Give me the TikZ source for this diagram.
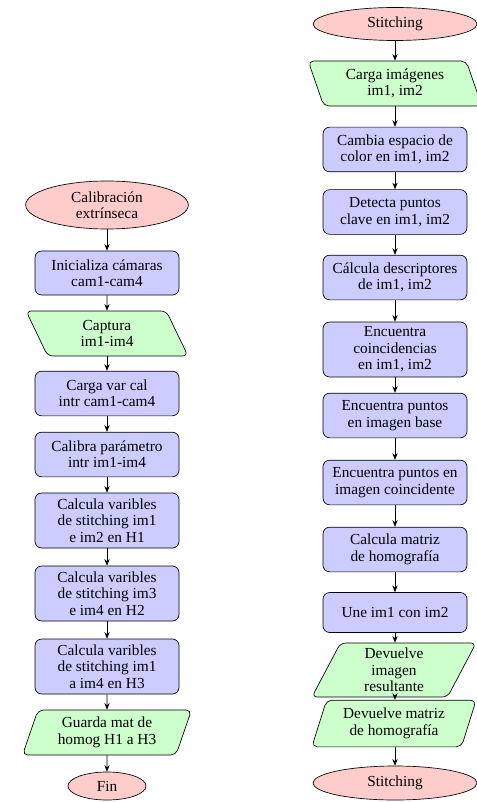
\documentclass[tikz,border=0pt]{standalone}
\usepackage{fontspec}
\setmainfont{Liberation Serif}
\usetikzlibrary{shapes.geometric,arrows.meta}
\begin{document}
\begin{tikzpicture}[x=0.75pt,y=-0.75pt,
  every node/.style={font=\fontsize{11.5}{12.3}\selectfont, align=center, draw, line width=0.5pt, inner sep=0pt},
  startstop/.style={ellipse, fill=red!20},
  process/.style={rectangle, rounded corners=5pt, fill=blue!20, minimum width=108pt, minimum height=33.5pt},
  process3/.style={process, minimum height=41.25pt},
  inp/.style={trapezium, trapezium left angle=110, trapezium right angle=70, trapezium stretches=true, rounded corners=4pt, fill=green!20},
  outp/.style={trapezium, trapezium left angle=70, trapezium right angle=110, trapezium stretches=true, rounded corners=4pt, fill=green!20},
  arr/.style={-{Stealth[length=5pt,width=4pt]}, line width=0.5pt}]
\useasboundingbox (0,0) rectangle (477,802);
% left column
\node[startstop, minimum width=122pt, minimum height=36pt] (l1) at (107,205) {Calibración\\extrínseca};
\node[process, minimum height=33pt] (l2) at (107,273) {Inicializa cámaras\\cam1-cam4};
\node[inp, minimum width=122pt, minimum height=33.75pt] (l3) at (107,333.5) {Captura\\im1-im4};
\node[process] (l4) at (107,393.5) {Carga var cal\\intr cam1-cam4};
\node[process] (l5) at (107,454.5) {Calibra parámetro\\intr im1-im4};
\node[process3] (l6) at (107,520.5) {Calcula varibles\\de stitching im1\\e im2 en H1};
\node[process3] (l7) at (107,593.5) {Calcula varibles\\de stitching im3\\e im4 en H2};
\node[process3] (l8) at (107,666.5) {Calcula varibles\\de stitching im1\\a im4 en H3};
\node[outp, minimum width=127.5pt, minimum height=33.75pt] (l9) at (107,732.5) {Guarda mat de\\homog H1 a H3};
\node[startstop, minimum width=58.5pt, minimum height=21pt] (l10) at (107,786) {Fin};
\foreach \a/\b in {l1/l2,l2/l3,l3/l4,l4/l5,l5/l6,l6/l7,l7/l8,l8/l9,l9/l10}
  \draw[arr] (\a) -- (\b);
% right column
\node[startstop, minimum width=123pt, minimum height=24.75pt] (r1) at (395,24) {Stitching};
\node[inp, minimum width=131pt, minimum height=33.75pt] (r2) at (395,83.5) {Carga imágenes\\im1, im2};
\node[process] (r3) at (395,149.5) {Cambia espacio de\\color en im1, im2};
\node[process] (r4) at (395,212) {Detecta puntos\\clave en im1, im2};
\node[process] (r5) at (395,277.5) {Cálcula descriptores\\de im1, im2};
\node[process3] (r6) at (395,349.5) {Encuentra\\coincidencias\\en im1, im2};
\node[process] (r7) at (395,415.5) {Encuentra puntos\\en imagen base};
\node[process] (r8) at (395,482.5) {Encuentra puntos en\\imagen coincidente};
\node[process] (r9) at (395,549.5) {Calcula matriz\\de homografía};
\node[process, minimum height=30pt] (r10) at (395,612.5) {Une im1 con im2};
\node[outp, minimum width=124pt, minimum height=40.5pt] (r11) at (394,670) {Devuelve\\imagen\\resultante};
\node[outp, minimum width=124pt, minimum height=35pt] (r12) at (394,723.5) {Devuelve matriz\\de homografía};
\node[startstop, minimum width=123pt, minimum height=25.5pt] (r13) at (395,783) {Stitching};
\foreach \a/\b in {r1/r2,r2/r3,r3/r4,r4/r5,r5/r6,r6/r7,r7/r8,r8/r9,r9/r10,r10/r11,r11/r12,r12/r13}
  \draw[arr] (\a.south -| r1) -- (\b.north -| r1);
\end{tikzpicture}
\end{document}
